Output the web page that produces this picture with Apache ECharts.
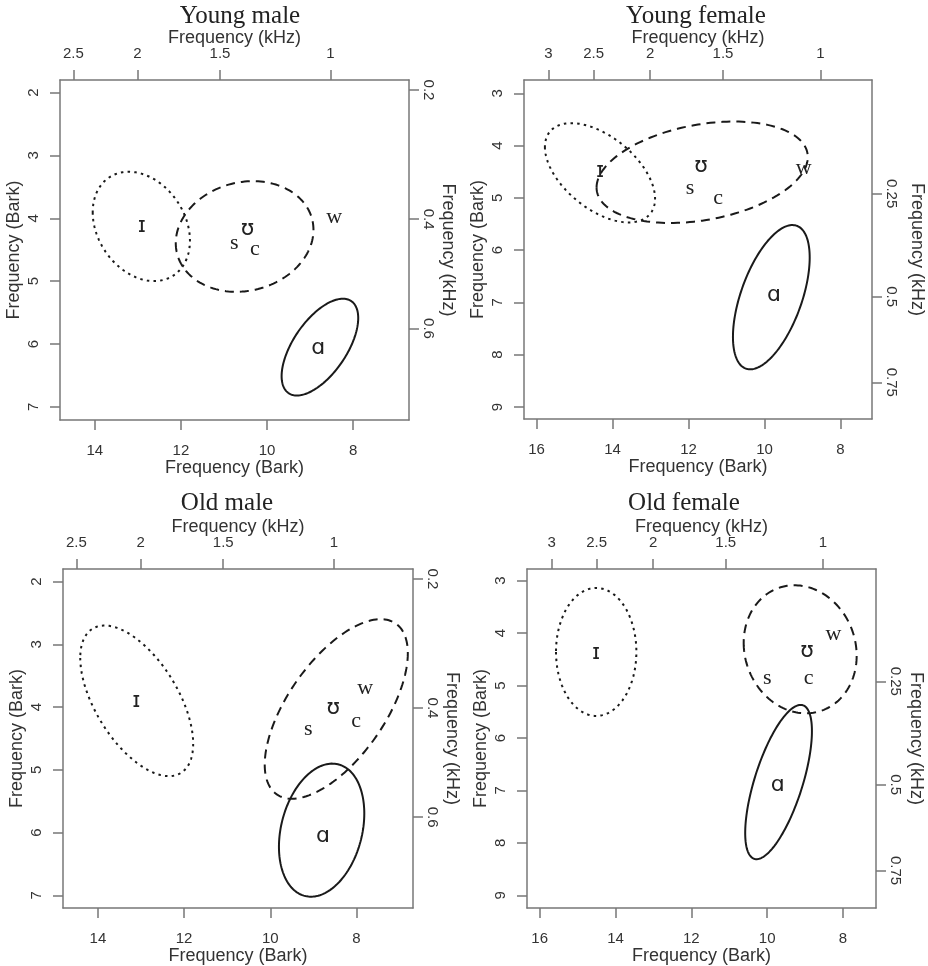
<!DOCTYPE html>
<html>
<head>
<meta charset="utf-8">
<script src="https://cdn.jsdelivr.net/npm/echarts@6/dist/echarts.min.js"></script>
<style>
  html, body { margin: 0; padding: 0; background: #fff; }
  #chart { width: 928px; height: 966px; }
</style>
</head>
<body>
<div id="chart"></div>
<script>
// panel titles
var titles = ['Young male', 'Young female', 'Old male', 'Old female'];

// vowel symbols, same order in every panel
var vowelSymbols = ['ɪ', 'ʊ', 's', 'c', 'w', 'ɑ'];

// symbol positions (F2 Bark, F1 Bark)
var youngMaleF2 = [12.91, 10.45, 10.76, 10.28, 8.44, 8.81];
var youngMaleF1 = [4.12, 4.18, 4.39, 4.49, 3.99, 6.07];
var youngFemaleF2 = [14.33, 11.67, 11.96, 11.22, 8.97, 9.75];
var youngFemaleF1 = [4.50, 4.40, 4.82, 5.01, 4.43, 6.87];
var oldMaleF2 = [13.11, 8.54, 9.12, 8.01, 7.80, 8.78];
var oldMaleF1 = [3.91, 4.02, 4.36, 4.23, 3.70, 6.06];
var oldFemaleF2 = [14.51, 8.95, 10.00, 8.91, 8.25, 9.72];
var oldFemaleF1 = [4.39, 4.35, 4.86, 4.86, 4.03, 6.91];

// ellipses: [F2 centre, F1 centre, F2 half width, F1 half height, tilt]
// order: dotted (ɪ), dashed (ʊ group), solid (ɑ)
var youngMaleEllipses = [[12.92, 4.13, 1.13, 0.87, -0.26], [10.52, 4.29, 1.60, 0.88, 0.12], [8.77, 6.05, 0.89, 0.77, 0.60]];
var youngFemaleEllipses = [[14.33, 4.52, 1.45, 0.95, -0.52], [11.64, 4.51, 2.78, 0.97, 0.30], [9.82, 6.90, 1.01, 1.38, 0.55]];
var oldMaleEllipses = [[13.10, 3.90, 1.31, 1.20, -0.57], [8.47, 4.03, 1.66, 1.43, 0.62], [8.81, 5.96, 0.99, 1.06, 0.25]];
var oldFemaleEllipses = [[14.51, 4.36, 1.06, 1.22, 0.0], [9.13, 4.31, 1.49, 1.22, -0.10], [9.70, 6.84, 0.88, 1.47, 0.66]];

// tick values
var maleBarkF2Ticks = [14, 12, 10, 8];
var femaleBarkF2Ticks = [16, 14, 12, 10, 8];
var maleBarkF1Ticks = [2, 3, 4, 5, 6, 7];
var femaleBarkF1Ticks = [3, 4, 5, 6, 7, 8, 9];
var maleKhzF2Ticks = [2.5, 2, 1.5, 1];
var maleKhzF2Labels = ['2.5', '2', '1.5', '1'];
var femaleKhzF2Ticks = [3, 2.5, 2, 1.5, 1];
var femaleKhzF2Labels = ['3', '2.5', '2', '1.5', '1'];
var maleKhzF1Ticks = [0.2, 0.4, 0.6];
var maleKhzF1Labels = ['0.2', '0.4', '0.6'];
var femaleKhzF1Ticks = [0.5, 0.75, 1];
var femaleKhzF1Labels = ['0.25', '0.5', '0.75'];   // as printed on the original

// Traunmuller Hz -> Bark
function khzToBark(k) {
    var f = k * 1000;
    var z = 26.81 * f / (1960 + f) - 0.53;
    if (z < 2) z = z + 0.15 * (2 - z);
    return z;
}

var panels = [
    { f2: youngMaleF2, f1: youngMaleF1, ell: youngMaleEllipses,
      bx: maleBarkF2Ticks, by: maleBarkF1Ticks, kx: maleKhzF2Ticks, kxl: maleKhzF2Labels, ky: maleKhzF1Ticks, kyl: maleKhzF1Labels,
      xr: [6.70, 14.81], yr: [1.80, 7.21], grid: { left: 60, top: 80, width: 349, height: 340 }, tx: 240, ty: 4, rg: 30 },
    { f2: youngFemaleF2, f1: youngFemaleF1, ell: youngFemaleEllipses,
      bx: femaleBarkF2Ticks, by: femaleBarkF1Ticks, kx: femaleKhzF2Ticks, kxl: femaleKhzF2Labels, ky: femaleKhzF1Ticks, kyl: femaleKhzF1Labels,
      xr: [7.17, 16.33], yr: [2.745, 9.23], grid: { left: 524, top: 80, width: 348, height: 339 }, tx: 696, ty: 4, rg: 36 },
    { f2: oldMaleF2, f1: oldMaleF1, ell: oldMaleEllipses,
      bx: maleBarkF2Ticks, by: maleBarkF1Ticks, kx: maleKhzF2Ticks, kxl: maleKhzF2Labels, ky: maleKhzF1Ticks, kyl: maleKhzF1Labels,
      xr: [6.69, 14.81], yr: [1.80, 7.20], grid: { left: 63, top: 569, width: 350, height: 339 }, tx: 227, ty: 491, rg: 30 },
    { f2: oldFemaleF2, f1: oldFemaleF1, ell: oldFemaleEllipses,
      bx: femaleBarkF2Ticks, by: femaleBarkF1Ticks, kx: femaleKhzF2Ticks, kxl: femaleKhzF2Labels, ky: femaleKhzF1Ticks, kyl: femaleKhzF1Labels,
      xr: [7.13, 16.335], yr: [2.78, 9.24], grid: { left: 527, top: 569, width: 349, height: 339 }, tx: 684, ty: 491, rg: 31 }
];

var lineCol = '#777';
var textCol = '#333';
var sans = 'Liberation Sans, Arial, sans-serif';
var dashes = [[2.5, 4.2], [9, 6], null];

function lookup(pos, labels) {
    return function (v) {
        for (var k = 0; k < pos.length; k++) {
            if (Math.abs(pos[k] - v) < 1e-6) return labels[k];
        }
        return '';
    };
}

function baseAxis(p, i, horizontal) {
    return {
        gridIndex: i,
        type: 'value',
        inverse: true,
        min: horizontal ? p.xr[0] : p.yr[0],
        max: horizontal ? p.xr[1] : p.yr[1],
        splitLine: { show: false },
        axisLine: { show: true, onZero: false, lineStyle: { color: lineCol, width: 1.5 } },
        axisTick: { show: true, length: 10, lineStyle: { color: lineCol, width: 1.5 } },
        nameLocation: 'middle',
        nameMoveOverlap: false,
        nameTextStyle: { color: textCol, fontSize: 18, fontFamily: sans }
    };
}

var option = { backgroundColor: '#fff', animation: false, title: [], grid: [], xAxis: [], yAxis: [], series: [] };

panels.forEach(function (p, i) {
    option.title.push({
        text: titles[i], left: p.tx, top: p.ty, textAlign: 'center', padding: 0,
        textStyle: { fontFamily: 'Liberation Serif, Times New Roman, serif', fontSize: 25, fontWeight: 'normal', color: '#222' }
    });
    option.grid.push(Object.assign({ containLabel: false }, p.grid));

    // bottom Bark axis
    var xb = baseAxis(p, i, true);
    xb.position = 'bottom';
    xb.name = 'Frequency (Bark)';
    xb.nameGap = 39;
    xb.axisTick.customValues = p.bx;
    xb.axisLabel = { customValues: p.bx, margin: 23, color: textCol, fontSize: 15, fontFamily: sans };
    option.xAxis.push(xb);

    // top kHz axis
    var kxPos = p.kx.map(khzToBark);
    var xt = baseAxis(p, i, true);
    xt.position = 'top';
    xt.name = 'Frequency (kHz)';
    xt.nameGap = 33;
    xt.axisTick.customValues = kxPos;
    xt.axisLabel = { customValues: kxPos, formatter: lookup(kxPos, p.kxl), margin: 19, color: textCol, fontSize: 15, fontFamily: sans };
    option.xAxis.push(xt);

    // left Bark axis
    var yl = baseAxis(p, i, false);
    yl.position = 'left';
    yl.name = 'Frequency (Bark)';
    yl.nameGap = 37;
    yl.axisTick.customValues = p.by;
    yl.axisLabel = { customValues: p.by, rotate: 90, margin: 19, color: textCol, fontSize: 15, fontFamily: sans };
    option.yAxis.push(yl);

    // right kHz axis
    var kyPos = p.ky.map(khzToBark);
    var yr = baseAxis(p, i, false);
    yr.position = 'right';
    yr.name = 'Frequency (kHz)';
    yr.nameGap = p.rg;
    yr.nameRotate = -90;
    yr.axisTick.customValues = kyPos;
    yr.axisLabel = { customValues: kyPos, formatter: lookup(kyPos, p.kyl), rotate: -90, margin: 12, color: textCol, fontSize: 15, fontFamily: sans };
    option.yAxis.push(yr);

    // ellipses
    option.series.push({
        type: 'custom',
        xAxisIndex: i * 2,
        yAxisIndex: i * 2,
        clip: false,
        silent: true,
        data: p.ell,
        encode: { x: 0, y: 1 },
        renderItem: function (params, api) {
            var e = p.ell[params.dataIndex];
            var pts = [];
            var n = 160;
            var s = Math.sqrt(1 - e[4] * e[4]);
            for (var k = 0; k < n; k++) {
                var t = 2 * Math.PI * k / n;
                pts.push(api.coord([e[0] + e[2] * Math.cos(t), e[1] + e[3] * (e[4] * Math.cos(t) + s * Math.sin(t))]));
            }
            return {
                type: 'polygon',
                shape: { points: pts },
                style: { fill: 'none', stroke: '#1a1a1a', lineWidth: 2, lineDash: dashes[params.dataIndex] }
            };
        }
    });

    // vowel symbols
    option.series.push({
        type: 'custom',
        xAxisIndex: i * 2,
        yAxisIndex: i * 2,
        clip: false,
        silent: true,
        data: p.f2.map(function (v, k) { return [v, p.f1[k]]; }),
        encode: { x: 0, y: 1 },
        renderItem: function (params, api) {
            var c = api.coord([api.value(0), api.value(1)]);
            var sym = vowelSymbols[params.dataIndex];
            var latin = /^[a-z]$/.test(sym);
            return {
                type: 'text',
                x: c[0], y: c[1],
                style: {
                    text: sym,
                    fill: '#222',
                    fontSize: 22,
                    fontFamily: latin ? 'Liberation Serif, serif' : 'DejaVu Sans, sans-serif',
                    align: 'center',
                    verticalAlign: 'middle'
                }
            };
        }
    });
});

var chart = echarts.init(document.getElementById('chart'));
chart.setOption(option);
</script>
</body>
</html>
